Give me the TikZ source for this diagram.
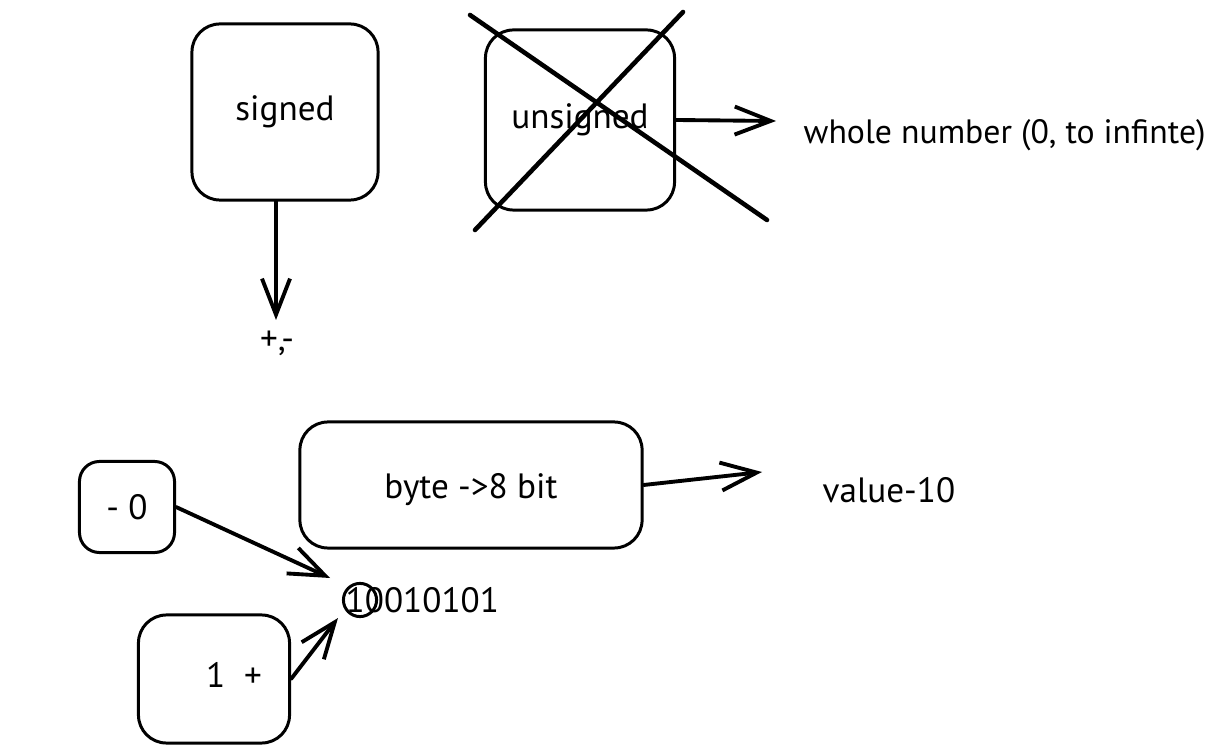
\documentclass[tikz,border=0pt]{standalone}
\usepackage{fontspec}
\setmainfont{PT Sans}
\usetikzlibrary{arrows.meta}

\begin{document}
\begin{tikzpicture}[x=0.01cm, y=-0.01cm, line cap=round, line join=round,
  box/.style={draw, line width=0.85pt, rounded corners=0.28cm, inner sep=0pt},
  arr/.style={line width=1.1pt, -{Straight Barb[length=3.6mm,width=2.8mm,line width=1.1pt]}},
  lbl/.style={font=\fontsize{10}{12}\selectfont}]
\useasboundingbox (0,0) rectangle (1218,749);

\node [box, lbl, minimum width=1.86cm, minimum height=1.76cm] (signed) at (285,112) {signed};
\node [box, lbl, minimum width=1.89cm, minimum height=1.80cm] (unsigned) at (580,120) {unsigned};
\node [box, minimum width=3.42cm, minimum height=1.26cm] (byte) at (471,485) {};
\node [lbl] (bytetext) at (471,490) {byte ->8 bit};
\node [box, lbl, minimum width=0.95cm, minimum height=0.91cm, rounded corners=0.2cm] (minus) at (127,507) {- 0};
\node [box, minimum width=1.51cm, minimum height=1.28cm] (plus) at (214,679) {};
\node [lbl] (plustext) at (234,675) {1\ \ +};

\node [lbl] (pm) at (277,343) {+,-};
\node [anchor=west, inner sep=0pt, font=\fontsize{9.6}{11}\selectfont] (whole) at (803,135) {whole number (0, to infinte)};
\node [lbl, anchor=west, inner sep=0pt] (value) at (822,490) {value-10};
\node [lbl, anchor=west, inner sep=0pt] (bits) at (345,600) {10010101};
\node [draw, circle, line width=0.85pt, minimum size=0.32cm] (ring) at (360,600) {};

\coordinate (pmtip) at (276,320);
\coordinate (wholetip) at (776,121);
\coordinate (valuetip) at (762,472);
\coordinate (bitsa) at (330,578);
\coordinate (bitsb) at (338,618);

\draw [arr] (signed.south -| pmtip) -- (pmtip);
\draw [arr] (unsigned.east) -- (wholetip);
\draw [arr] (byte.east) -- (valuetip);
\draw [arr] (minus.east) -- (bitsa);
\draw [arr] (plus.east) -- (bitsb);

\draw [line width=1.3pt] (470,15) -- (767,220);
\draw [line width=1.3pt] (683,12) -- (475,230);
\end{tikzpicture}
\end{document}
